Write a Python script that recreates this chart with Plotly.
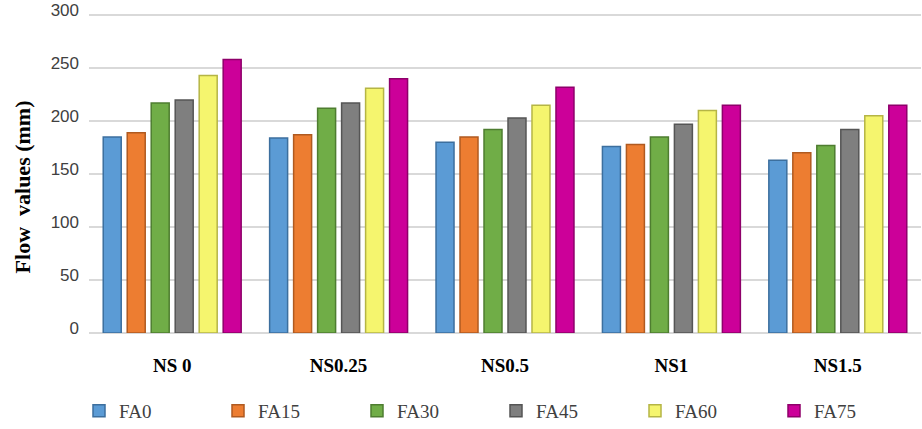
import plotly.graph_objects as go

categories = ["NS 0", "NS0.25", "NS0.5", "NS1", "NS1.5"]
series_names = ["FA0", "FA15", "FA30", "FA45", "FA60", "FA75"]
fa0 = [185, 184, 180, 176, 163]
fa15 = [189, 187, 185, 178, 170]
fa30 = [217, 212, 192, 185, 177]
fa45 = [220, 217, 203, 197, 192]
fa60 = [243, 231, 215, 210, 205]
fa75 = [258, 240, 232, 215, 215]
y_ticks = [0, 50, 100, 150, 200, 250, 300]
y_title = "Flow&nbsp; values (mm)"

series_values = [fa0, fa15, fa30, fa45, fa60, fa75]
colors = ["#5B9BD5", "#ED7D31", "#70AD47", "#7F7F7F", "#F5F56E", "#CC0099"]
edge_colors = ["#3C6F9E", "#B05A20", "#4E7D30", "#555555", "#B5B545", "#8E006A"]

fig = go.Figure()
legend_keys = ["legend", "legend2", "legend3", "legend4", "legend5", "legend6"]
for name, vals, c, ec, lk in zip(series_names, series_values, colors, edge_colors, legend_keys):
    fig.add_trace(go.Bar(
        x=categories, y=vals, name=name, legend=lk,
        marker=dict(color=c, line=dict(color=ec, width=1.5)),
        hoverinfo="skip",
    ))

legend_style = dict(
    orientation="h", xref="container", yref="container",
    xanchor="left", y=0.042, yanchor="middle",
    font=dict(family="Liberation Serif", size=19, color="#404040"),
    itemwidth=30, bgcolor="rgba(0,0,0,0)",
)
legend_layout = {}
for i, lk in enumerate(legend_keys):
    legend_layout[lk] = dict(legend_style, x=(79 + 139 * i) / 922)

fig.update_layout(
    width=922, height=429,
    margin=dict(l=89, r=1, t=8, b=96),
    paper_bgcolor="white", plot_bgcolor="white",
    barmode="group", bargap=0.135, bargroupgap=0.25,
    showlegend=True,
    **legend_layout,
)
fig.add_annotation(
    text=f"<b>{y_title}</b>", textangle=-90, showarrow=False,
    xref="paper", yref="paper", x=-0.0805, y=0.455, xanchor="center", yanchor="middle",
    font=dict(family="Liberation Serif", size=22, color="black"),
)
fig.update_yaxes(
    range=[0, 302], tickvals=y_ticks, showgrid=True, gridcolor="#D9D9D9", gridwidth=1.5,
    zeroline=True, zerolinecolor="#D9D9D9", zerolinewidth=1.5, showline=False,
    tickfont=dict(family="Liberation Sans", size=17, color="#404040"),
    ticks="", ticklabelstandoff=9, ticklabelshift=-5, ticklabeloverflow="allow",
)
fig.update_xaxes(
    showgrid=False, showline=False, ticks="",
    tickvals=categories, ticktext=[f"<b>{c}</b>" for c in categories],
    tickfont=dict(family="Liberation Serif", size=19, color="black"),
    ticklabelstandoff=19,
)

fig.write_html("out.html", config={"displayModeBar": False},
               post_script="document.body.style.margin='0px';")
